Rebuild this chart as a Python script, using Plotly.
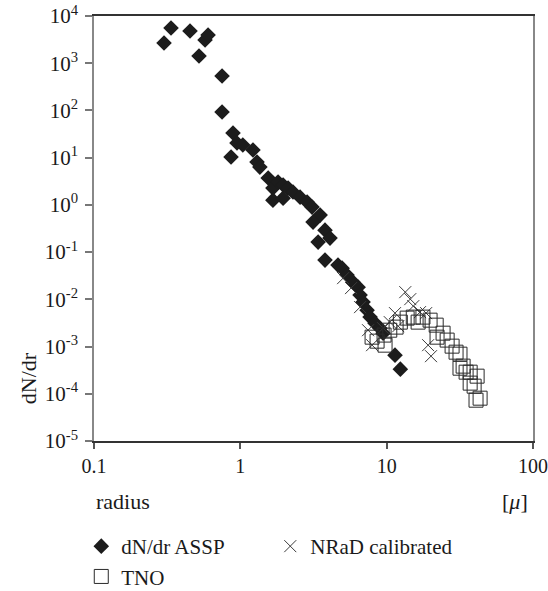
import plotly.graph_objects as go

# dN/dr ASSP (diamonds)
assp_r = [0.301, 0.336, 0.453, 0.522, 0.574, 0.602, 0.750, 0.750, 0.891, 0.864,
          0.949, 1.04, 1.22, 1.30, 1.36, 1.55, 1.67, 1.81, 1.96, 2.12,
          2.29, 1.67, 1.96, 2.56, 2.86, 3.09, 3.51, 3.14, 3.79, 4.10,
          3.40, 3.79, 4.65, 4.96, 5.36, 5.89, 6.38, 6.58, 6.90, 7.35,
          7.70, 8.33, 9.01, 9.45, 11.4, 12.4]
assp_dn = [2680, 5570, 4810, 1420, 3100, 3950, 536, 92.5, 33.2, 10.3,
           20.4, 18.5, 14.5, 8.07, 6.32, 3.70, 2.27, 3.04, 2.63, 2.27,
           1.87, 1.26, 1.39, 1.46, 1.15, 0.898, 0.608, 0.432, 0.292, 0.198,
           0.163, 0.0678, 0.0531, 0.0458, 0.0326, 0.0231, 0.0181, 0.0123, 0.00873, 0.0059,
           0.0042, 0.00313, 0.00245, 0.00192, 0.000658, 0.000332]

# NRaD calibrated (crosses)
nrad_r = [5.04, 5.71, 6.58, 7.46, 7.95, 10.5, 11.4, 12.0, 13.4, 14.5,
          15.2, 16.9, 18.6, 19.2, 20.1, 9.45]
nrad_dn = [0.0281, 0.0173, 0.00684, 0.00222, 0.00107, 0.00329, 0.0051, 0.0027, 0.0142, 0.0101,
           0.00718, 0.00536, 0.0051, 0.00107, 0.000626, 0.00245]

# TNO (squares)
tno_r = [7.95, 8.60, 9.75, 9.60, 10.5, 11.6, 12.4, 13.8, 15.2, 16.4,
         17.7, 19.8, 21.8, 22.1, 24.3, 25.9, 28.0, 29.8, 31.7, 31.7,
         33.3, 34.9, 37.2, 37.2, 39.6, 41.5, 40.8, 43.5]
tno_dn = [0.00158, 0.0013, 0.00107, 0.00175, 0.00222, 0.00258, 0.00329, 0.0040, 0.0042, 0.00329,
          0.0042, 0.00362, 0.00284, 0.00158, 0.00192, 0.00137, 0.00102, 0.00076, 0.00069, 0.000348,
          0.000385, 0.000287, 0.000287, 0.000168, 0.000145, 0.000236, 0.0000731, 0.0000807]

x_ticks = [0.1, 1, 10, 100]
x_ticktext = ["0.1", "1", "10", "100"]
y_exps = [4, 3, 2, 1, 0, -1, -2, -3, -4, -5]
y_ticks = [10.0 ** e for e in y_exps]
y_ticktext = ["10<sup>%d</sup>" % e for e in y_exps]

FONT = "Liberation Serif, Times New Roman, serif"
TXT = "#1a1a1a"

fig = go.Figure()
fig.add_trace(go.Scatter(
    x=assp_r, y=assp_dn, mode="markers", name="dN/dr ASSP",
    marker=dict(symbol="diamond", size=12, color="#1c1c1c", line=dict(width=0)),
))
fig.add_trace(go.Scatter(
    x=nrad_r, y=nrad_dn, mode="markers", name="NRaD calibrated",
    marker=dict(symbol="x-thin", size=12, color="#3a3a3a",
                line=dict(width=1, color="#3a3a3a")),
))
fig.add_trace(go.Scatter(
    x=tno_r, y=tno_dn, mode="markers", name="TNO",
    marker=dict(symbol="square-open", size=14, color="#2a2a2a",
                line=dict(width=1, color="#2a2a2a")),
))

fig.update_layout(
    width=548, height=591,
    margin=dict(l=94, r=15, t=16, b=150, autoexpand=False),
    paper_bgcolor="white", plot_bgcolor="white",
    font=dict(family=FONT, size=20, color=TXT),
    showlegend=True,
    legend=dict(
        orientation="h", x=-0.029, xanchor="left", y=-0.200, yanchor="top",
        entrywidth=144, entrywidthmode="pixels",
        font=dict(family=FONT, size=21, color=TXT),
        bgcolor="rgba(0,0,0,0)",
    ),
    xaxis=dict(
        type="log", range=[-1, 2],
        tickvals=x_ticks, ticktext=x_ticktext,
        showgrid=False, zeroline=False,
        showline=True, linecolor="#333333", linewidth=1.5, mirror=True,
        ticks="outside", ticklen=6, tickcolor="#555555", tickwidth=1.5,
        tickfont=dict(family=FONT, size=20, color=TXT),
    ),
    yaxis=dict(
        type="log", range=[-5, 4],
        tickvals=y_ticks, ticktext=y_ticktext,
        showgrid=False, zeroline=False,
        showline=True, linecolor="#888888", linewidth=1.5, mirror=True,
        ticks="outside", ticklen=7, tickcolor="#777777", tickwidth=1.5,
        tickfont=dict(family=FONT, size=21, color=TXT),
        ticklabelstandoff=3,
    ),
    annotations=[
        dict(text="dN/dr", textangle=-90, xref="paper", yref="paper",
             x=-0.150, y=0.148, xanchor="center", yanchor="middle",
             showarrow=False, font=dict(family=FONT, size=22, color=TXT)),
        dict(text="radius", xref="paper", yref="paper",
             x=0.0, y=-0.1435, xanchor="left", yanchor="middle",
             showarrow=False, font=dict(family=FONT, size=22, color=TXT)),
        dict(text="[<i>μ</i>]", xref="paper", yref="paper",
             x=0.993, y=-0.1435, xanchor="right", yanchor="middle",
             showarrow=False, font=dict(family=FONT, size=22, color=TXT)),
    ],
)

fig.write_html("out.html", config={"displayModeBar": False},
               post_script="document.body.style.margin='0';")
